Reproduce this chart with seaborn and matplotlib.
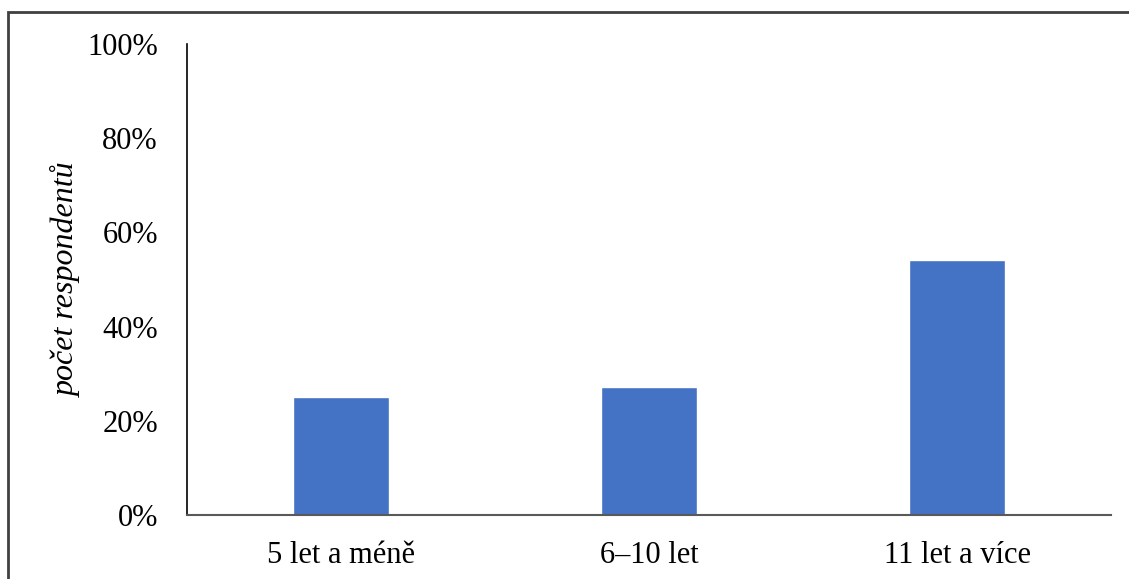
import pandas as pd
import seaborn as sns
import matplotlib.pyplot as plt
from matplotlib.patches import Rectangle
from matplotlib.ticker import PercentFormatter

sns.set_theme(style='white')
plt.rcParams['font.family'] = ['Liberation Serif', 'DejaVu Serif']
plt.rcParams['text.color'] = 'black'
plt.rcParams['axes.labelcolor'] = 'black'
plt.rcParams['xtick.color'] = 'black'
plt.rcParams['ytick.color'] = 'black'

categories = ['5 let a méně', '6–10 let', '11 let a více']
shares = [25.1, 27.2, 54.1]

df = pd.DataFrame({'category': categories, 'share': shares})

fig = plt.figure(figsize=(11.29, 5.79), dpi=100)
ax = fig.add_axes([0.1656, 0.1105, 0.8185, 0.8135])

sns.barplot(data=df, x='category', y='share', color='#4472C4', saturation=1,
            width=0.31, ax=ax)

ax.set_xlim(-0.5, 2.5)
ax.set_ylim(0, 100)
ax.set_yticks([0, 20, 40, 60, 80, 100])
ax.yaxis.set_major_formatter(PercentFormatter(decimals=0))
ax.tick_params(axis='y', labelsize=22, pad=21, length=0)
ax.tick_params(axis='x', labelsize=22, pad=19, length=0)
ax.set_xlabel('')
ax.set_ylabel('počet respondentů', fontsize=23, style='italic', labelpad=4)

for s in ['top', 'right']:
    ax.spines[s].set_visible(False)
ax.spines['left'].set_color('black')
ax.spines['left'].set_linewidth(1.2)
ax.spines['bottom'].set_color('#595959')
ax.spines['bottom'].set_linewidth(1.5)

# outer frame around the chart area
frame = Rectangle((8 / 1129, -0.1), 1.2, 1 - 12 / 579 + 0.1,
                  transform=fig.transFigure, fill=False,
                  edgecolor='#404040', linewidth=2)
fig.patches.append(frame)

fig.savefig('out.png', dpi=100)
